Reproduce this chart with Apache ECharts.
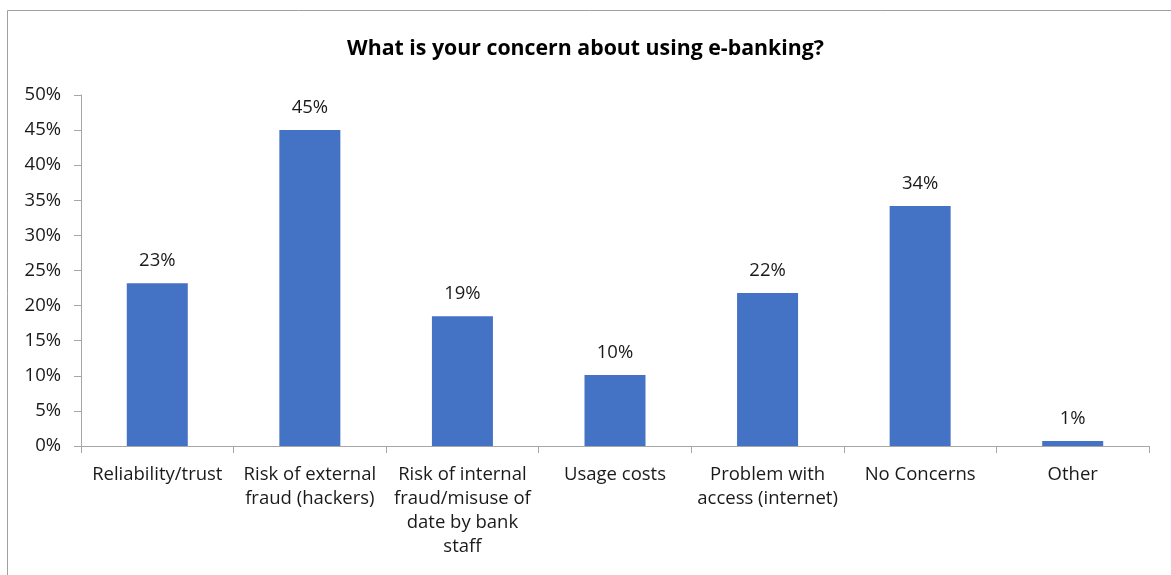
<!DOCTYPE html>
<html>
<head>
<meta charset="utf-8">
<style>
  html, body { margin: 0; padding: 0; background: #fff; }
  #chart { width: 1171px; height: 575px; }
</style>
<script src="https://cdn.jsdelivr.net/npm/echarts@6/dist/echarts.min.js"></script>
</head>
<body>
<div id="chart"></div>
<script>
// Survey answers: share of respondents per concern (percent)
const categories = [
  'Reliability/trust',
  'Risk of external\nfraud (hackers)',
  'Risk of internal\nfraud/misuse of\ndate by bank\nstaff',
  'Usage costs',
  'Problem with\naccess (internet)',
  'No Concerns',
  'Other'
];
const shares = [23.2, 45.0, 18.5, 10.1, 21.8, 34.2, 0.7];
const yTicks = [0, 5, 10, 15, 20, 25, 30, 35, 40, 45, 50];

const FONT = '"Open Sans", Lato, sans-serif';
const TEXT = '#1a1a1a';
const AXIS = '#a6a6a6';

const chart = echarts.init(document.getElementById('chart'), null, { renderer: 'canvas' });
chart.setOption({
  animation: false,
  backgroundColor: '#ffffff',
  title: {
    text: 'What is your concern about using e-banking?',
    left: 'center',
    top: 33,
    textStyle: { fontFamily: FONT, fontWeight: 'bold', fontSize: 21.3, color: '#000' }
  },
  graphic: [{
    type: 'rect',
    shape: { x: 7.5, y: 10.5, width: 1200, height: 600 },
    style: { fill: 'none', stroke: '#a0a0a0', lineWidth: 1 },
    silent: true
  }],
  grid: { left: 81, right: 22, top: 95, bottom: 129, containLabel: false },
  xAxis: {
    type: 'category',
    data: categories,
    axisLine: { lineStyle: { color: AXIS, width: 1 } },
    axisTick: { show: true, alignWithLabel: false, length: 7, lineStyle: { color: AXIS } },
    axisLabel: {
      interval: 0,
      margin: 17,
      fontFamily: FONT,
      fontSize: 18.5,
      lineHeight: 24,
      color: TEXT,
      align: 'center'
    },
    splitLine: { show: false }
  },
  yAxis: {
    type: 'value',
    min: yTicks[0],
    max: yTicks[yTicks.length - 1],
    interval: yTicks[1] - yTicks[0],
    axisLine: { show: true, lineStyle: { color: AXIS, width: 1 } },
    axisTick: { show: true, length: 7, lineStyle: { color: AXIS } },
    axisLabel: {
      margin: 20,
      fontFamily: FONT,
      fontSize: 18.5,
      color: TEXT,
      formatter: v => v + '%'
    },
    splitLine: { show: false }
  },
  series: [{
    type: 'bar',
    data: shares,
    barWidth: 61,
    itemStyle: { color: '#4472C4' },
    label: {
      show: true,
      position: 'top',
      distance: 13,
      fontFamily: FONT,
      fontSize: 18.5,
      color: TEXT,
      formatter: p => Math.round(p.value) + '%'
    }
  }]
});
</script>
</body>
</html>
